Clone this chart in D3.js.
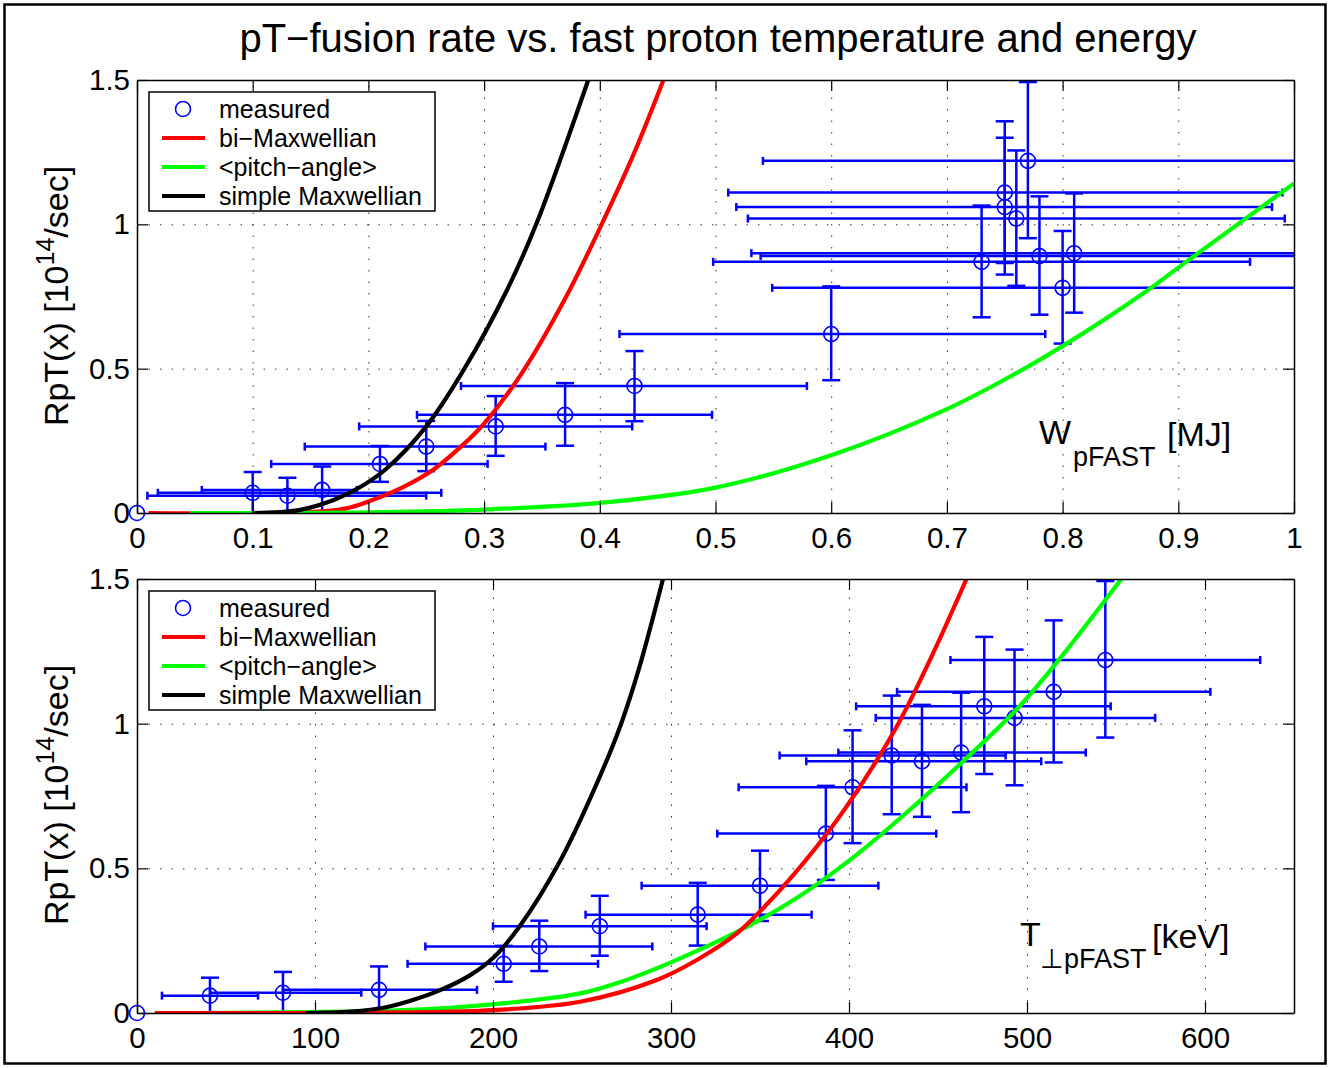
<!DOCTYPE html>
<html><head><meta charset="utf-8">
<script src="https://cdn.jsdelivr.net/npm/d3@7"></script>
<style>
body{margin:0;background:#fff;}
svg{display:block;font-family:"Liberation Sans",Arial,Helvetica,sans-serif;}
.grid .domain{display:none;}
.grid line{stroke:#333;stroke-width:1;stroke-dasharray:1.5 10;}
.ax .domain{stroke:#000;stroke-width:1.5;}
.ax line{stroke:#000;stroke-width:1.2;}
.ax text{font-size:29.5px;fill:#000;font-family:"Liberation Sans",Arial,sans-serif;}
</style></head><body>
<svg id="chart" width="1330" height="1068"></svg>
<script>
// ---------------- data ----------------
const titleText = "pT\u2212fusion rate vs. fast proton temperature and energy";
const legendLabels = ["measured", "bi\u2212Maxwellian", "<pitch\u2212angle>", "simple Maxwellian"];
const yTicks = [0, 0.5, 1, 1.5];
const wTicks = [0, 0.1, 0.2, 0.3, 0.4, 0.5, 0.6, 0.7, 0.8, 0.9, 1];
const tTicks = [0, 100, 200, 300, 400, 500, 600];

// measured fusion rate (10^14/s) and its vertical error range
const measY   = [0, 0.06, 0.07, 0.08, 0.17, 0.23, 0.30, 0.34, 0.44, 0.62, 0.78, 0.87, 0.89, 0.90, 1.02, 1.06, 1.11, 1.22];
const measYLo = [0, 0.00, 0.00, 0.00, 0.108, 0.145, 0.198, 0.233, 0.318, 0.46, 0.587, 0.678, 0.687, 0.694, 0.787, 0.826, 0.866, 0.952];
const measYHi = [0, 0.122, 0.142, 0.161, 0.232, 0.319, 0.405, 0.45, 0.561, 0.785, 0.977, 1.065, 1.097, 1.107, 1.256, 1.30, 1.357, 1.493];
// fast proton energy W (MJ) and its horizontal error range
const measW   = [0, 0.13, 0.10, 0.16, 0.21, 0.25, 0.31, 0.37, 0.43, 0.60, 0.80, 0.73, 0.78, 0.81, 0.76, 0.75, 0.75, 0.77];
const measWLo = [0, 0.009, 0.018, 0.056, 0.116, 0.145, 0.192, 0.242, 0.28, 0.417, 0.549, 0.498, 0.539, 0.531, 0.528, 0.518, 0.511, 0.541];
const measWHi = [0, 0.25, 0.263, 0.19, 0.303, 0.353, 0.428, 0.497, 0.579, 0.785, 1.05, 0.962, 1.04, 1.08, 0.992, 0.981, 0.990, 1.05];
// fast proton perpendicular temperature T (keV) and its horizontal error range
const measT   = [0, 41, 82, 136, 206, 226, 260, 315, 350, 387, 402, 441, 424, 463, 493, 476, 515, 544];
const measTLo = [0, 14, 41, 82, 152, 162, 200, 252, 283.5, 326, 338, 376, 361, 394, 415, 404, 427, 457];
const measTHi = [0, 68, 126, 191, 259, 289.5, 320, 379, 416.5, 449, 466, 508, 488, 533, 572, 547, 603, 631];

// model curves, top panel (vs W)
const topRedW   = [0.01, 0.15, 0.18, 0.20, 0.23, 0.256, 0.28, 0.30, 0.3325, 0.371, 0.4016, 0.43, 0.455];
const topRedY   = [0, 0.003, 0.015, 0.04, 0.09, 0.15, 0.23, 0.31, 0.484, 0.75, 1.0, 1.25, 1.5];
const topGreenW = [0.046, 0.2, 0.3, 0.4, 0.5, 0.6, 0.7, 0.758, 0.8, 0.873, 0.9, 1.0];
const topGreenY = [0, 0.002, 0.012, 0.035, 0.088, 0.2, 0.36, 0.48, 0.578, 0.77, 0.85, 1.142];
const topBlackW = [0.10, 0.14, 0.17, 0.193, 0.216, 0.25, 0.283, 0.3195, 0.345, 0.39];
const topBlackY = [0, 0.01, 0.045, 0.09, 0.155, 0.30, 0.50, 0.77, 1.0, 1.5];
// model curves, bottom panel (vs T)
const botRedT   = [10, 150, 200, 249, 292, 315, 337, 362, 387.7, 408, 427.7, 447, 466];
const botRedY   = [0, 0.002, 0.01, 0.039, 0.114, 0.185, 0.275, 0.43, 0.621, 0.80, 1.0, 1.24, 1.5];
const botGreenT = [10, 150, 200, 249, 273, 300, 337, 370, 400.6, 430, 465, 495, 516.5, 553];
const botGreenY = [0, 0.01, 0.03, 0.068, 0.11, 0.175, 0.28, 0.395, 0.529, 0.68, 0.875, 1.055, 1.21, 1.5];
const botBlackT = [95, 120, 140, 155, 170, 187, 200, 215, 238, 260, 272, 282, 295.5];
const botBlackY = [0, 0.005, 0.02, 0.045, 0.078, 0.13, 0.19, 0.3, 0.529, 0.817, 1.0, 1.19, 1.5];

// ---------------- drawing ----------------
const svg = d3.select("#chart");
svg.append("rect").attr("width", 1330).attr("height", 1068).attr("fill", "#fff");
svg.append("rect").attr("x", 4.5).attr("y", 4.5).attr("width", 1321).attr("height", 1059)
  .attr("fill", "none").attr("stroke", "#000").attr("stroke-width", 2.5);

svg.append("text").attr("x", 718).attr("y", 52).attr("text-anchor", "middle")
  .attr("font-size", 40).text(titleText);

const L = 137, R = 1294;
const colors = {meas: "#0000ff", red: "#ff0000", green: "#00ff00", black: "#000000"};
const fmt = d => String(+d.toFixed(1));

function drawPanel(p) {
  const x = d3.scaleLinear().domain([0, p.xMax]).range([L, R]);
  const y = d3.scaleLinear().domain([0, 1.5]).range([p.bottom, p.top]);
  const g = svg.append("g");
  const clipId = "clip" + p.id;
  svg.append("clipPath").attr("id", clipId).append("rect")
    .attr("x", L).attr("y", p.top).attr("width", R - L).attr("height", p.bottom - p.top);

  // grid
  g.append("g").attr("class", "grid").attr("transform", `translate(0,${p.bottom})`)
    .call(d3.axisBottom(x).tickValues(p.xTicks.slice(1).filter(v => v < p.xMax)).tickSize(-(p.bottom - p.top)).tickFormat(""));
  g.append("g").attr("class", "grid").attr("transform", `translate(${L},0)`)
    .call(d3.axisLeft(y).tickValues(yTicks.slice(1, -1)).tickSize(-(R - L)).tickFormat(""));

  // error bars
  const eb = g.append("g").attr("clip-path", `url(#${clipId})`)
    .attr("stroke", colors.meas).attr("stroke-width", 2.5).attr("fill", "none");
  measY.forEach((v, i) => {
    const px = x(p.mx[i]), py = y(v);
    if (measYHi[i] > measYLo[i]) {
      eb.append("line").attr("x1", px).attr("x2", px).attr("y1", y(measYLo[i])).attr("y2", y(measYHi[i]));
      eb.append("line").attr("x1", px - 9).attr("x2", px + 9).attr("y1", y(measYHi[i])).attr("y2", y(measYHi[i]));
      eb.append("line").attr("x1", px - 9).attr("x2", px + 9).attr("y1", y(measYLo[i])).attr("y2", y(measYLo[i]));
    }
    if (p.mxHi[i] > p.mxLo[i]) {
      eb.append("line").attr("x1", x(p.mxLo[i])).attr("x2", x(p.mxHi[i])).attr("y1", py).attr("y2", py);
      eb.append("line").attr("x1", x(p.mxLo[i])).attr("x2", x(p.mxLo[i])).attr("y1", py - 4).attr("y2", py + 4);
      eb.append("line").attr("x1", x(p.mxHi[i])).attr("x2", x(p.mxHi[i])).attr("y1", py - 4).attr("y2", py + 4);
    }
  });
  // markers
  g.append("g").selectAll("circle").data(measY).join("circle")
    .attr("cx", (d, i) => x(p.mx[i])).attr("cy", d => y(d)).attr("r", 7.5)
    .attr("fill", "none").attr("stroke", colors.meas).attr("stroke-width", 1.6);

  // curves
  const line = d3.line().x(d => x(d[0])).y(d => y(d[1])).curve(d3.curveCatmullRom.alpha(0.5));
  const cg = g.append("g").attr("clip-path", `url(#${clipId})`);
  p.curves.forEach(c => {
    cg.append("path").datum(d3.zip(c.xs, c.ys)).attr("d", line)
      .attr("fill", "none").attr("stroke", c.color).attr("stroke-width", 4.2)
      .attr("stroke-linejoin", "round");
  });

  // axes (MATLAB box with inward ticks)
  g.append("g").attr("class", "ax").attr("transform", `translate(0,${p.bottom})`)
    .call(d3.axisBottom(x).tickValues(p.xTicks).tickSize(-11).tickSizeOuter(0).tickPadding(14).tickFormat(fmt));
  g.append("g").attr("class", "ax").attr("transform", `translate(0,${p.top})`)
    .call(d3.axisTop(x).tickValues(p.xTicks).tickSize(-11).tickSizeOuter(0).tickFormat(""));
  g.append("g").attr("class", "ax").attr("transform", `translate(${L},0)`)
    .call(d3.axisLeft(y).tickValues(yTicks).tickSize(-11).tickSizeOuter(0).tickPadding(7).tickFormat(fmt));
  g.append("g").attr("class", "ax").attr("transform", `translate(${R},0)`)
    .call(d3.axisRight(y).tickValues(yTicks).tickSize(-11).tickSizeOuter(0).tickFormat(""));

  // y label
  const yl = g.append("text").attr("transform", `translate(68,${p.labelY}) rotate(-90)`)
    .attr("text-anchor", "middle").attr("font-size", 34);
  yl.append("tspan").text("RpT(x) [10");
  yl.append("tspan").attr("dy", -14).attr("font-size", 25).text("14");
  yl.append("tspan").attr("dy", 14).text("/sec]");

  // annotation
  const a = p.annot;
  g.append("text").attr("x", a.x).attr("y", a.y).attr("font-size", 34).text(a.main);
  g.append("text").attr("x", a.subX).attr("y", a.y + 22).attr("font-size", 27).text(a.sub);
  g.append("text").attr("x", a.unitX).attr("y", a.y + 2).attr("font-size", 34).text(a.unit);

  // legend
  const lx = 149, ly = p.top + 12;
  const lg = g.append("g");
  lg.append("rect").attr("x", lx).attr("y", ly).attr("width", 286).attr("height", 119)
    .attr("fill", "#fff").attr("stroke", "#000").attr("stroke-width", 1.5);
  const legColors = [colors.meas, colors.red, colors.green, colors.black];
  legendLabels.forEach((lab, i) => {
    const cy = ly + 17 + i * 29;
    if (i === 0) {
      lg.append("circle").attr("cx", lx + 34).attr("cy", cy).attr("r", 7.5)
        .attr("fill", "none").attr("stroke", legColors[i]).attr("stroke-width", 1.6);
    } else {
      lg.append("line").attr("x1", lx + 13).attr("x2", lx + 56).attr("y1", cy).attr("y2", cy)
        .attr("stroke", legColors[i]).attr("stroke-width", 4.2);
    }
    lg.append("text").attr("x", lx + 70).attr("y", cy).attr("dy", "0.35em")
      .attr("font-size", 25).text(lab);
  });
}

drawPanel({
  id: "top", top: 80, bottom: 513, xMax: 1, xTicks: wTicks,
  mx: measW, mxLo: measWLo, mxHi: measWHi, labelY: 296,
  curves: [
    {xs: topRedW, ys: topRedY, color: colors.red},
    {xs: topGreenW, ys: topGreenY, color: colors.green},
    {xs: topBlackW, ys: topBlackY, color: colors.black}
  ],
  annot: {x: 1039, y: 444, main: "W", subX: 1073, sub: "pFAST", unitX: 1167, unit: "[MJ]"}
});

drawPanel({
  id: "bot", top: 579, bottom: 1013, xMax: 650, xTicks: tTicks,
  mx: measT, mxLo: measTLo, mxHi: measTHi, labelY: 795,
  curves: [
    {xs: botGreenT, ys: botGreenY, color: colors.green},
    {xs: botRedT, ys: botRedY, color: colors.red},
    {xs: botBlackT, ys: botBlackY, color: colors.black}
  ],
  annot: {x: 1020, y: 946, main: "T", subX: 1040, sub: "\u22A5pFAST", unitX: 1152, unit: "[keV]"}
});
</script></body></html>
